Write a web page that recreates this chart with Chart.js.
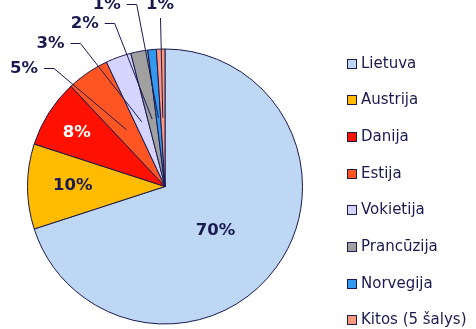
<!DOCTYPE html>
<html>
<head>
<meta charset="utf-8">
<script src="https://cdn.jsdelivr.net/npm/chart.js@4/dist/chart.umd.min.js"></script>
<style>
  html, body { margin: 0; padding: 0; background: #fff; }
  #wrap { width: 476px; height: 329px; }
</style>
</head>
<body>
<div id="wrap"><canvas id="chart" width="476" height="329"></canvas></div>
<script>
// ===== Data =====
const countries = ['Lietuva', 'Austrija', 'Danija', 'Estija', 'Vokietija', 'Prancūzija', 'Norvegija', 'Kitos (5 šalys)'];
const shares = [70, 10, 8, 5, 3, 2, 1, 1];
const sliceColors = ['#bdd7f4', '#ffbb00', '#ff1100', '#ff5522', '#d4d4ff', '#a0a0a0', '#3399ee', '#ff9980'];

const NAVY = '#1a1a50';
const FONT = '"DejaVu Sans", Verdana, sans-serif';

// label placement, offsets are from the pie centre
const labelSpots = [
    { dx: 50.5, dy: 44.3, color: NAVY },
    { dx: -92.3, dy: -0.8, color: NAVY },
    { dx: -88.3, dy: -54, color: '#ffffff' },
    { dx: -141, dy: -117.5, leader: 'side' },
    { dx: -114.5, dy: -143, leader: 'side' },
    { dx: -80.3, dy: -162.5, leader: 'side' },
    { dx: -58.3, dy: -182, leader: 'side' },
    { dx: -5, dy: -181.5, leader: 'below' }
];

// ===== Percent labels with leader lines =====
const pieLabels = {
    id: 'pieLabels',
    afterDatasetsDraw(chart) {
        const ctx = chart.ctx;
        const meta = chart.getDatasetMeta(0);
        ctx.save();
        ctx.font = 'bold 16.5px ' + FONT;
        ctx.textAlign = 'center';
        ctx.textBaseline = 'middle';
        meta.data.forEach((arc, i) => {
            const spot = labelSpots[i];
            const p = arc.getProps(['x', 'y', 'startAngle', 'endAngle', 'outerRadius'], true);
            const tx = p.x + spot.dx;
            const ty = p.y + spot.dy;
            const text = chart.data.datasets[0].data[i] + '%';
            if (spot.leader) {
                const mid = (p.startAngle + p.endAngle) / 2;
                const ax = p.x + Math.cos(mid) * p.outerRadius * 0.5;
                const ay = p.y + Math.sin(mid) * p.outerRadius * 0.5;
                const w = ctx.measureText(text).width;
                ctx.strokeStyle = NAVY;
                ctx.lineWidth = 1;
                ctx.beginPath();
                if (spot.leader === 'side') {
                    const sx = tx + w / 2 + 6;
                    const sy = Math.round(ty) - 0.5;
                    ctx.moveTo(sx, sy);
                    ctx.lineTo(sx + 10, sy);
                    ctx.lineTo(ax, ay);
                } else {
                    ctx.moveTo(Math.round(tx) + 0.5, ty + 13);
                    ctx.lineTo(ax, ay);
                }
                ctx.stroke();
            }
            ctx.fillStyle = spot.color || NAVY;
            ctx.fillText(text, tx, ty);
        });
        ctx.restore();
    }
};

// ===== Legend on the right =====
const sideLegend = {
    id: 'sideLegend',
    afterDraw(chart) {
        const ctx = chart.ctx;
        const ds = chart.data.datasets[0];
        ctx.save();
        ctx.font = '15px ' + FONT;
        ctx.textAlign = 'left';
        ctx.textBaseline = 'middle';
        chart.data.labels.forEach((label, i) => {
            const y = Math.round(63.5 + i * 36.7);
            ctx.fillStyle = ds.backgroundColor[i];
            ctx.fillRect(347.5, y - 4.5, 9, 9);
            ctx.strokeStyle = NAVY;
            ctx.lineWidth = 1;
            ctx.strokeRect(347.5, y - 4.5, 9, 9);
            ctx.fillStyle = NAVY;
            ctx.fillText(label, 361, y + 0.5);
        });
        ctx.restore();
    }
};

const whiteBg = {
    id: 'whiteBg',
    beforeDraw(chart) {
        const ctx = chart.ctx;
        ctx.save();
        ctx.fillStyle = '#ffffff';
        ctx.fillRect(0, 0, chart.width, chart.height);
        ctx.restore();
    }
};

new Chart(document.getElementById('chart'), {
    type: 'pie',
    data: {
        labels: countries,
        datasets: [{
            data: shares,
            backgroundColor: sliceColors,
            borderColor: NAVY,
            borderWidth: 1
        }]
    },
    options: {
        responsive: false,
        devicePixelRatio: 1,
        animation: false,
        layout: { padding: { left: 27, right: 173, top: 48.5, bottom: 4.5 } },
        plugins: {
            legend: { display: false },
            tooltip: { enabled: false }
        }
    },
    plugins: [whiteBg, pieLabels, sideLegend]
});
</script>
</body>
</html>
